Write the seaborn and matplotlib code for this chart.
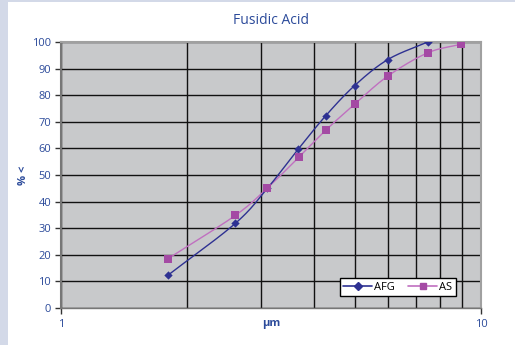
import numpy as np
import pandas as pd
import matplotlib
matplotlib.use("Agg")
import matplotlib.pyplot as plt
import seaborn as sns
from matplotlib.ticker import FixedLocator, NullFormatter, FixedFormatter
from matplotlib.lines import Line2D

# Data
afg_x = [1.8, 2.6, 3.1, 3.67, 4.27, 5.0, 6.0, 7.46]
afg_y = [12.4, 31.8, 45.0, 59.7, 72.3, 83.6, 93.4, 100.0]
as_x = [1.8, 2.6, 3.1, 3.69, 4.28, 5.0, 6.0, 7.46, 8.98]
as_y = [18.6, 34.8, 45.1, 56.8, 67.0, 76.6, 87.2, 95.9, 99.2]
series_names = ["AFG", "AS"]
title = "Fusidic Acid"
xlabel = "µm"
ylabel = "% <"
yticks = [0, 10, 20, 30, 40, 50, 60, 70, 80, 90, 100]
xtick_labels = ["1", "10"]

sns.set_theme(style="white")
plt.rcParams['font.family'] = ['Open Sans', 'DejaVu Sans']

blue_txt = "#2b4a9a"
afg_col = "#2e3192"
as_col = "#a44aa4"
as_line = "#c070c0"


def smooth(xs, ys, n=20):
    # Catmull-Rom smoothing in log-x space (visual line only)
    lx = np.log10(np.asarray(xs, float))
    y = np.asarray(ys, float)
    P = np.column_stack([lx, y])
    P = np.vstack([P[0] - (P[1] - P[0]), P, P[-1] + (P[-1] - P[-2])])
    out = []
    for i in range(1, len(P) - 2):
        p0, p1, p2, p3 = P[i - 1], P[i], P[i + 1], P[i + 2]
        for t in np.linspace(0, 1, n, endpoint=False):
            t2, t3 = t * t, t * t * t
            pt = 0.5 * ((2 * p1) + (-p0 + p2) * t + (2 * p0 - 5 * p1 + 4 * p2 - p3) * t2
                        + (-p0 + 3 * p1 - 3 * p2 + p3) * t3)
            out.append(pt)
    out.append(P[-2])
    out = np.array(out)
    return 10 ** out[:, 0], out[:, 1]


fig = plt.figure(figsize=(5.15, 3.45), dpi=100)
fig.patch.set_facecolor("white")
fig.patches.append(plt.Rectangle((0, 0), 8 / 515, 1, transform=fig.transFigure,
                                 facecolor="#d3d9e8", edgecolor="none", zorder=0))
fig.patches.append(plt.Rectangle((0, 1 - 2 / 345), 1, 2 / 345, transform=fig.transFigure,
                                 facecolor="#d3d9e8", edgecolor="none", zorder=0))

ax = fig.add_axes([61 / 515, 1 - 308 / 345, 420 / 515, 266 / 345])
ax.set_facecolor("#c8c9cb")

sx, sy = smooth(afg_x, afg_y)
ax.plot(sx, sy, color=afg_col, lw=1.0, zorder=3)
sx2, sy2 = smooth(as_x, as_y)
ax.plot(sx2, sy2, color=as_line, lw=1.0, zorder=2)

df_afg = pd.DataFrame({"x": afg_x, "y": afg_y})
df_as = pd.DataFrame({"x": as_x, "y": as_y})
sns.scatterplot(data=df_afg, x="x", y="y", ax=ax, marker="D", s=18, color=afg_col,
                edgecolor=afg_col, linewidth=0, zorder=4)
sns.scatterplot(data=df_as, x="x", y="y", ax=ax, marker="s", s=30, color=as_col,
                edgecolor=as_col, linewidth=0, zorder=5)

ax.set_xscale("log")
ax.set_xlim(1, 10)
ax.set_ylim(0, 100)
ax.set_yticks(yticks)
ax.xaxis.set_major_locator(FixedLocator([1, 10]))
ax.xaxis.set_major_formatter(FixedFormatter(xtick_labels))
ax.xaxis.set_minor_locator(FixedLocator([2, 3, 4, 5, 6, 7, 8, 9]))
ax.xaxis.set_minor_formatter(NullFormatter())

ax.grid(True, which="both", axis="x", color="#111111", lw=1.0)
ax.grid(True, which="major", axis="y", color="#111111", lw=1.0)
ax.set_axisbelow(True)

for s in ["top", "right"]:
    ax.spines[s].set_color("#a0a0a0")
    ax.spines[s].set_linewidth(1.5)
ax.spines["left"].set_color("#777777")
ax.spines["left"].set_linewidth(1.5)
ax.spines["bottom"].set_color("#777777")
ax.spines["bottom"].set_linewidth(1.0)

ax.tick_params(axis="y", which="major", direction="out", length=4, width=1,
               color="#333333", labelsize=8, labelcolor=blue_txt, pad=3, left=True)
ax.tick_params(axis="x", which="major", direction="out", length=4, width=1,
               color="#333333", labelsize=8, labelcolor=blue_txt, pad=4, bottom=True)
ax.tick_params(axis="x", which="minor", length=0)

ax.set_xlabel(xlabel, color=blue_txt, fontsize=8, fontweight="bold", labelpad=-9)
ax.set_ylabel(ylabel, color=blue_txt, fontsize=8, fontweight="bold", labelpad=2)
ax.set_title(title, color=blue_txt, fontsize=10, pad=13)

handles = [Line2D([], [], color=afg_col, marker="D", markersize=4, lw=1.2),
           Line2D([], [], color=as_line, marker="s", markersize=5, markerfacecolor=as_col,
                  markeredgecolor=as_col, lw=1.2)]
leg = ax.legend(handles, series_names, loc="lower right", bbox_to_anchor=(0.94, 0.045),
                borderaxespad=0, ncol=2, frameon=True, fontsize=8, handlelength=2.6,
                handletextpad=0.2, columnspacing=1.2, borderpad=0.3, fancybox=False,
                framealpha=1)
leg.get_frame().set_edgecolor("black")
leg.get_frame().set_linewidth(1.0)
for t in leg.get_texts():
    t.set_color("black")

fig.savefig("out.png", dpi=100)
